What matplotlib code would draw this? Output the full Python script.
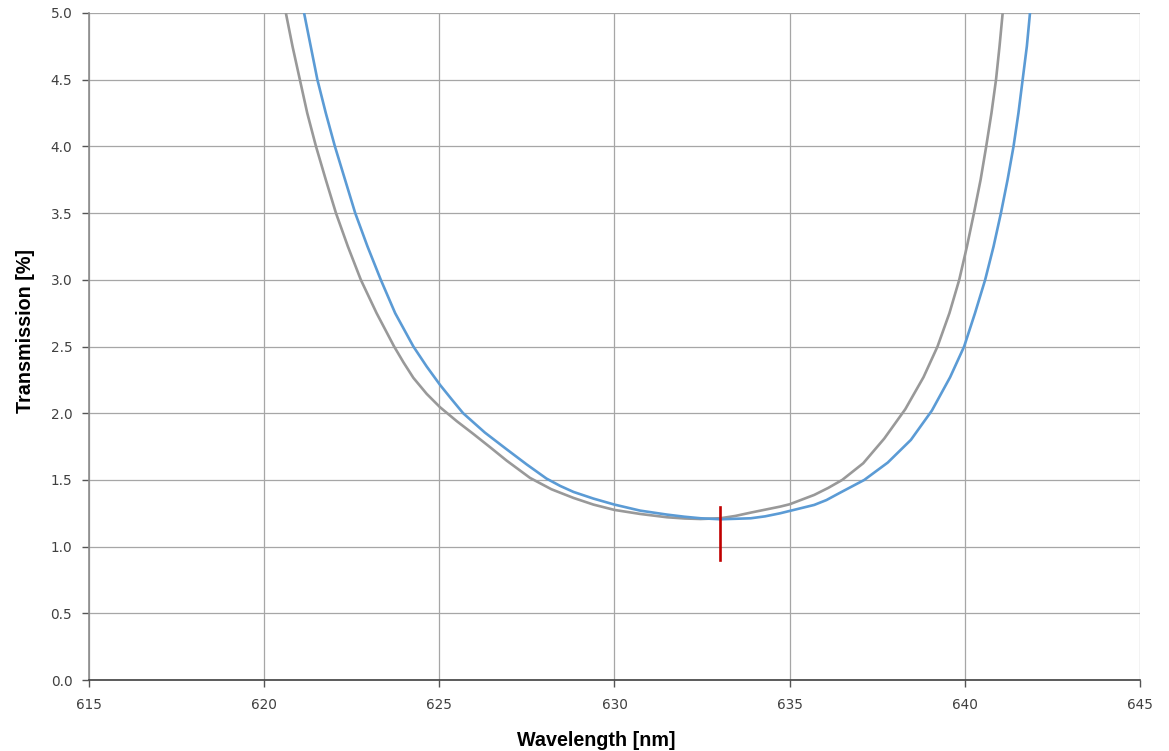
import matplotlib
matplotlib.use("Agg")
from matplotlib import pyplot as plt

# values
wl_gray = [620.62, 620.81, 621.02, 621.23, 621.48, 621.76, 622.05, 622.39, 622.76,
           623.21, 623.71, 623.98, 624.26, 624.64, 625.02, 625.5, 625.97, 626.45,
           626.92, 627.59, 628.2, 628.83, 629.4, 630.0, 630.73, 631.5, 632.0,
           632.46, 633.03, 633.45, 633.89, 634.73, 635.0, 635.70, 636.1, 636.5,
           637.1, 637.7, 638.3, 638.82, 639.22, 639.56, 639.84, 640.06, 640.26,
           640.45, 640.61, 640.76, 640.89, 640.99, 641.08]
t_gray = [5.0, 4.75, 4.5, 4.25, 4.0, 3.75, 3.5, 3.25, 3.0,
          2.75, 2.5, 2.38, 2.265, 2.145, 2.045, 1.94, 1.845, 1.745,
          1.645, 1.515, 1.43, 1.365, 1.315, 1.275, 1.245, 1.22, 1.211,
          1.207, 1.213, 1.23, 1.255, 1.30, 1.3175, 1.3875, 1.44, 1.50,
          1.625, 1.81, 2.03, 2.27, 2.5, 2.75, 3.0, 3.25, 3.5,
          3.75, 4.0, 4.25, 4.5, 4.75, 5.0]

wl_blue = [621.14, 621.33, 621.52, 621.76, 622.02, 622.31, 622.60, 622.95, 623.33,
           623.74, 624.26, 624.64, 625.02, 625.35, 625.68, 626.3, 626.92, 627.5,
           628.06, 628.45, 628.83, 629.4, 630.0, 630.73, 631.5, 632.0, 632.46,
           633.03, 633.89, 634.3, 634.73, 635.0, 635.70, 636.05, 636.41, 637.13,
           637.8, 638.46, 639.06, 639.58, 639.98, 640.29, 640.58, 640.82, 641.03,
           641.22, 641.39, 641.53, 641.65, 641.77, 641.86]
t_blue = [5.0, 4.75, 4.5, 4.25, 4.0, 3.75, 3.5, 3.25, 3.0,
          2.75, 2.5, 2.35, 2.2125, 2.105, 2.0, 1.855, 1.73, 1.615,
          1.51, 1.455, 1.41, 1.36, 1.315, 1.27, 1.24, 1.224, 1.2125,
          1.205, 1.2125, 1.227, 1.25, 1.2675, 1.3125, 1.349, 1.40, 1.50,
          1.63, 1.80, 2.02, 2.27, 2.5, 2.75, 3.0, 3.25, 3.5,
          3.75, 4.0, 4.25, 4.5, 4.75, 5.0]

marker_wl = 633.0
marker_t = [0.9, 1.3]

x_ticks = [615, 620, 625, 630, 635, 640, 645]
y_ticks = [0.0, 0.5, 1.0, 1.5, 2.0, 2.5, 3.0, 3.5, 4.0, 4.5, 5.0]

fig = plt.figure(figsize=(11.69, 7.51), dpi=100)
ax = fig.add_axes([0.0761, 0.0945, 0.8991, 0.8882])

ax.plot(wl_gray, t_gray, color='#999999', lw=1.9, zorder=3,
        solid_joinstyle='round', solid_capstyle='butt')
ax.plot(wl_blue, t_blue, color='#5B9BD5', lw=1.9, zorder=4,
        solid_joinstyle='round', solid_capstyle='butt')
ax.plot([marker_wl, marker_wl], marker_t, color='#C00000', lw=1.9, zorder=5)

ax.set_xlim(615, 645)
ax.set_ylim(0, 5)
ax.set_xticks(x_ticks)
ax.set_yticks(y_ticks)
ax.set_yticklabels(['%.1f' % v for v in y_ticks])

ax.grid(True, color='#a6a6a6', lw=0.9, zorder=0)
ax.set_axisbelow(True)
for s in ['top', 'right']:
    ax.spines[s].set_visible(False)
ax.spines['left'].set_color('#8c8c8c')
ax.spines['left'].set_linewidth(1.2)
ax.spines['bottom'].set_color('#404040')
ax.spines['bottom'].set_linewidth(1.2)
ax.tick_params(axis='both', direction='out', length=5, width=1, color='#555555',
               labelsize=9.8, labelcolor='#404040')
ax.tick_params(axis='x', pad=8)
ax.tick_params(axis='y', pad=7)

ax.set_xlabel('Wavelength [nm]', fontsize=14.2, fontweight='bold',
              family='Liberation Sans')
ax.set_ylabel('Transmission [%]', fontsize=14.2, fontweight='bold',
              family='Liberation Sans')
ax.xaxis.set_label_coords(0.4824, -0.0765)
ax.yaxis.set_label_coords(-0.0514, 0.523)

fig.savefig('out.png', dpi=100)
